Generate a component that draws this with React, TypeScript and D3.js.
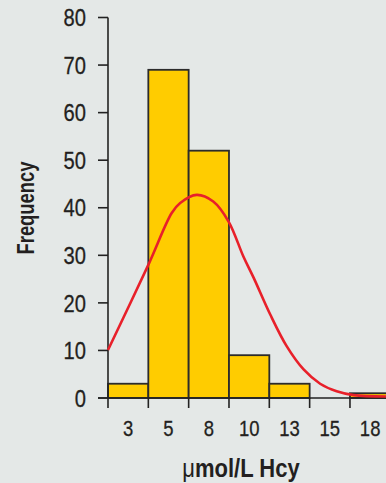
import React from "react";
import * as d3 from "d3";

const binLabels = ["3", "5", "8", "10", "13", "15", "18"];
const binCounts = [3, 69, 52, 9, 3, 0, 1];
const yTicks = [0, 10, 20, 30, 40, 50, 60, 70, 80];
// fitted curve: position in bin units, frequency
const curvePos = [0, 1.0, 1.58, 1.79, 2.2, 2.61, 2.99, 3.36, 3.61, 4.02, 4.43, 4.85, 5.26, 5.67, 6.09, 6.9];
const curveVal = [10.1, 28.0, 38.9, 41.0, 42.7, 41.3, 37.1, 29.7, 25.3, 17.6, 10.9, 6.0, 3.0, 1.4, 0.6, 0.3];

const W = 386;
const H = 483;
const BG = "#e4e8e7";
const FONT = "'Liberation Sans', Arial, sans-serif";
const INK = "#231f20";

export default function App() {
  const x = d3.scaleLinear().domain([0, 7]).range([108, 390.3]);
  const y = d3.scaleLinear().domain([0, 80]).range([398, 17.5]);
  const line = d3
    .line<number>()
    .x((_, i) => x(curvePos[i]))
    .y((d) => y(d))
    .curve(d3.curveCatmullRom.alpha(0.5));
  const edges = d3.range(0, 7);

  return (
    <svg
      width={W}
      height={H}
      style={{ position: "absolute", left: 0, top: 0, display: "block" }}
    >
      <rect x={0} y={0} width={W} height={H} fill={BG} />
      {binCounts.map((c, i) =>
        c > 0 ? (
          <rect
            key={i}
            x={x(i)}
            y={y(c)}
            width={x(i + 1) - x(i)}
            height={y(0) - y(c)}
            fill="#ffcc00"
            stroke="#2b2b2b"
            strokeWidth={1.8}
          />
        ) : null
      )}
      {/* y axis */}
      <line x1={x(0)} x2={x(0)} y1={y(80)} y2={y(0)} stroke="#222" strokeWidth={1.6} />
      {yTicks.map((t) => (
        <g key={t}>
          <line x1={98} x2={x(0)} y1={y(t)} y2={y(t)} stroke="#222" strokeWidth={1.6} />
          <g transform={`translate(86,${y(t)}) scale(0.84,1)`}>
            <text
              dy="0.36em"
              textAnchor="end"
              fontFamily={FONT}
              fontSize={24}
              fill={INK}
              stroke={INK}
              strokeWidth={0.3}
            >
              {t}
            </text>
          </g>
        </g>
      ))}
      {/* x axis */}
      <line x1={98} x2={W} y1={y(0)} y2={y(0)} stroke="#222" strokeWidth={1.6} />
      {edges.map((e) => (
        <line key={e} x1={x(e)} x2={x(e)} y1={y(0)} y2={y(0) + 10} stroke="#222" strokeWidth={1.6} />
      ))}
      {binLabels.map((l, i) => (
        <g key={l} transform={`translate(${(x(i) + x(i + 1)) / 2},436) scale(0.84,1)`}>
          <text
            textAnchor="middle"
            fontFamily={FONT}
            fontSize={22}
            fill={INK}
            stroke={INK}
            strokeWidth={0.3}
          >
            {l}
          </text>
        </g>
      ))}
      <path d={line(curveVal) || ""} fill="none" stroke="#e8202a" strokeWidth={2.6} />
      <g transform="translate(241,477) scale(0.88,1)">
        <text
          textAnchor="middle"
          fontFamily={FONT}
          fontSize={25}
          fontWeight="bold"
          fill={INK}
        >
          <tspan fontWeight="normal">μ</tspan>mol/L Hcy
        </text>
      </g>
      <g transform="translate(34,208) rotate(-90) scale(0.8,1)">
        <text
          textAnchor="middle"
          fontFamily={FONT}
          fontSize={23}
          fontWeight="bold"
          fill={INK}
        >
          Frequency
        </text>
      </g>
    </svg>
  );
}
